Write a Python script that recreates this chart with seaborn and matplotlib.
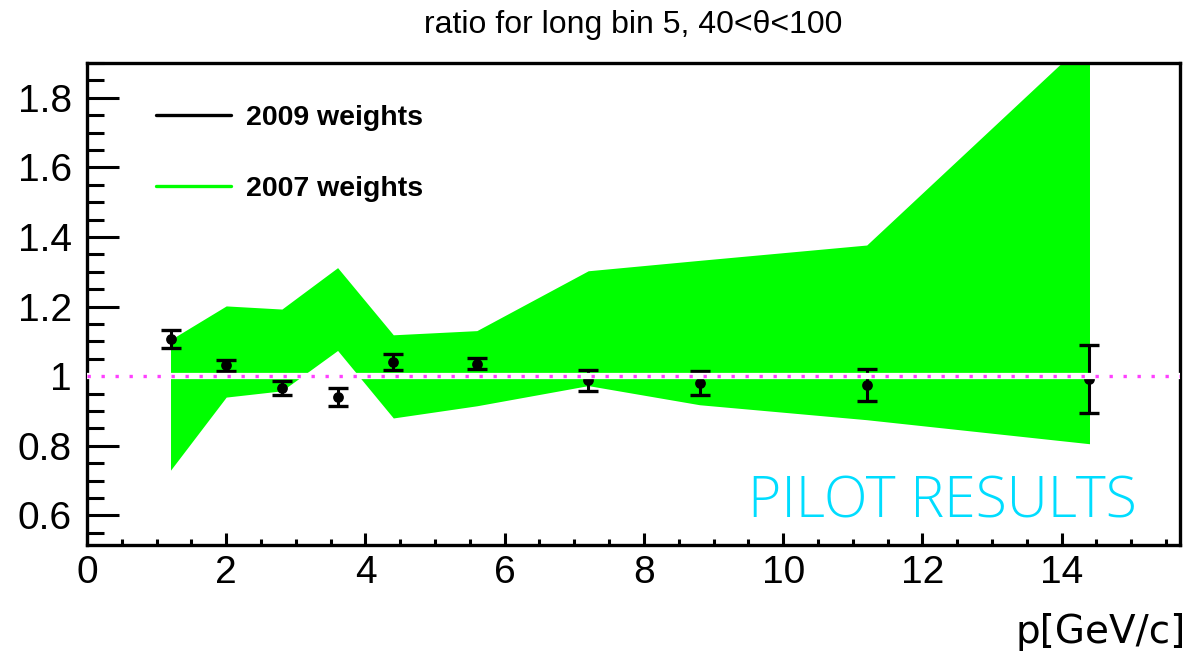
import matplotlib
matplotlib.use('Agg')
import matplotlib.pyplot as plt
import seaborn as sns
import pandas as pd
from matplotlib.lines import Line2D
from matplotlib.ticker import MultipleLocator, FuncFormatter

# %%
# values
p = [1.2, 2.0, 2.8, 3.6, 4.4, 5.6, 7.2, 8.8, 11.2, 14.4]
ratio_2009 = [1.107, 1.031, 0.965, 0.939, 1.040, 1.036, 0.988, 0.980, 0.975, 0.992]
err_2009 = [0.026, 0.015, 0.020, 0.026, 0.023, 0.015, 0.030, 0.035, 0.046, 0.098]
band_low_2007 = [0.730, 0.940, 0.958, 1.074, 0.880, 0.915, 0.973, 0.918, 0.875, 0.806]
band_high_2007 = [1.105, 1.202, 1.193, 1.312, 1.119, 1.131, 1.303, 1.333, 1.377, 1.975]
legend_labels = ['2009 weights', '2007 weights']
title = 'ratio for long bin 5, 40<θ<100'

df = pd.DataFrame({'p': p, 'ratio': ratio_2009, 'err': err_2009,
                   'low': band_low_2007, 'high': band_high_2007})

# %%
sns.set_theme(style='white', rc={'text.color': 'black', 'xtick.color': 'black',
                                 'ytick.color': 'black', 'axes.labelcolor': 'black'})
plt.rcParams['font.family'] = ['Liberation Sans', 'DejaVu Sans']

fig = plt.figure(figsize=(11.93, 6.53), dpi=100)
ax = fig.add_axes([0.0729, 0.1654, 0.9162, 0.7381])

# 2007 band
ax.fill_between(df['p'], df['low'], df['high'], color='#00ff00', lw=0, zorder=1)

# 2009 points with error bars
ax.errorbar(df['p'], df['ratio'], yerr=df['err'], fmt='none', ecolor='black',
            elinewidth=2.2, capsize=7, capthick=2.4, zorder=3)
sns.scatterplot(data=df, x='p', y='ratio', color='black', s=60, edgecolor='black',
                linewidth=0, ax=ax, zorder=4)

# reference line at 1
ax.axhline(1.0, color='white', lw=4.5, zorder=5)
ax.axhline(1.0, color='#ff40ff', lw=2.4, linestyle=(0, (1, 3.2)), zorder=6)

ax.set_xlim(0, 15.7)
ax.set_ylim(0.515, 1.9)
ax.set_xlabel('')
ax.set_ylabel('')

ax.xaxis.set_major_locator(MultipleLocator(2))
ax.xaxis.set_minor_locator(MultipleLocator(0.5))
ax.yaxis.set_major_locator(MultipleLocator(0.2))
ax.yaxis.set_minor_locator(MultipleLocator(0.05))
ax.yaxis.set_major_formatter(FuncFormatter(lambda v, pos: '%g' % round(v, 2)))
ax.xaxis.set_major_formatter(FuncFormatter(lambda v, pos: '%g' % v))

ax.tick_params(axis='y', which='major', direction='in', length=23, width=2.2,
               labelsize=28, pad=11, left=True, right=False)
ax.tick_params(axis='y', which='minor', direction='in', length=12, width=2.2,
               left=True, right=False)
ax.tick_params(axis='x', which='major', direction='in', length=9, width=2.2,
               labelsize=28, pad=7, bottom=True, top=False)
ax.tick_params(axis='x', which='minor', direction='in', length=4, width=2.2,
               bottom=True, top=False)
for s in ax.spines.values():
    s.set_color('black')
    s.set_linewidth(2.4)

handles = [Line2D([], [], color='black', lw=2.4),
           Line2D([], [], color='#00ff00', lw=2.4)]
ax.legend(handles, legend_labels, loc='upper left', bbox_to_anchor=(0.063, 0.912),
          frameon=False, borderpad=0, borderaxespad=0, handlelength=2.65,
          handletextpad=0.5, labelspacing=1.55,
          prop={'family': 'Liberation Sans', 'weight': 'bold', 'size': 20.5})

ax.text(0.783, 0.087, 'PILOT RESULTS', transform=ax.transAxes, ha='center',
        va='center', color='#00ddff', fontsize=41, family='Open Sans',
        fontweight='light', zorder=7)

fig.text(633 / 1193, 1 - 25 / 653, title, ha='center', va='center', fontsize=23)
fig.text(1186 / 1193, 1 - 643 / 653, 'p[GeV/c]', ha='right', va='baseline',
         fontsize=28, family='DejaVu Sans')

fig.savefig('out.png', dpi=100)
